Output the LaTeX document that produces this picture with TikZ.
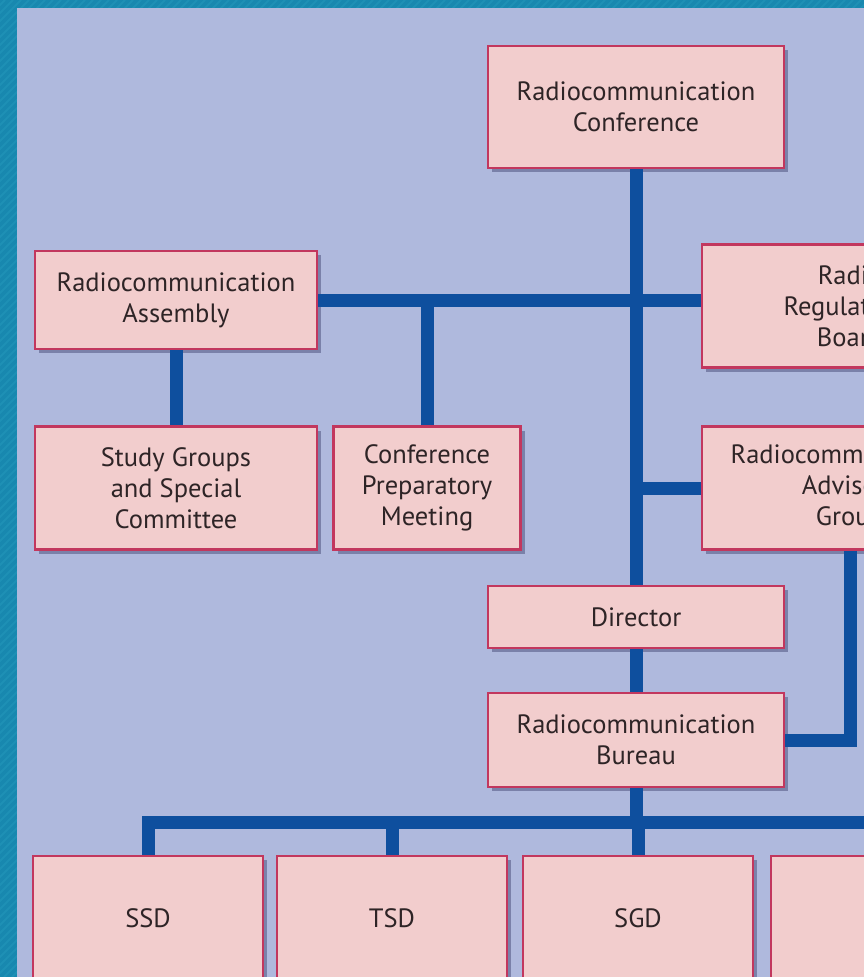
\documentclass[tikz,border=0pt]{standalone}
\usepackage{fontspec}
\setmainfont{PT Sans}
\usetikzlibrary{shadows,calc}
\definecolor{Frame}{HTML}{1888AF}
\definecolor{FrameLine}{HTML}{2598BC}
\definecolor{Sky}{HTML}{AFB9DD}
\definecolor{Rose}{HTML}{F2CDCD}
\definecolor{Crimson}{HTML}{C2375E}
\definecolor{Navy}{HTML}{0E4F9E}
\definecolor{Ink}{HTML}{2E2426}

\begin{document}
\begin{tikzpicture}[x=1pt,y=-1pt,
    unit/.style={draw=Crimson, fill=Rose, line width=2.2pt, align=center,
      text=Ink, inner sep=0pt, font=\fontsize{26.5}{31}\selectfont,
      drop shadow={shadow xshift=4pt, shadow yshift=-4pt, opacity=0.3, fill=black!80!blue}},
    link/.style={Navy, line width=13pt}]
  \useasboundingbox (0,0) rectangle (864,977);
  \clip (0,0) rectangle (864,977);
  % frame and background
  \fill[Frame] (0,0) rectangle (864,977);
  \foreach \i in {-980,-972,...,864} {
    \draw[FrameLine, line width=2pt, opacity=0.5] (\i,977) -- ++(977,-977);
  }
  \fill[Sky] (17,8) rectangle (864,977);

  % boxes
  \node[unit, minimum width=296pt, minimum height=122pt] (conf) at (636,107) {Radiocommunication\\Conference};
  \node[unit, minimum width=282pt, minimum height=98pt] (assembly) at (176,300) {Radiocommunication\\Assembly};
  \node[unit, minimum width=296pt, minimum height=123pt] (rrb) at (850,306) {Radio\\Regulations\\Board};
  \node[unit, minimum width=282pt, minimum height=123pt] (study) at (176,488) {Study Groups\\and Special\\Committee};
  \node[unit, minimum width=187pt, minimum height=123pt] (cpm) at (427,488) {Conference\\Preparatory\\Meeting};
  \node[unit, minimum width=296pt, minimum height=123pt] (rag) at (850,488) {Radiocommunication\\Advisory\\Group};
  \node[unit, minimum width=296pt, minimum height=62pt] (director) at (636,617) {Director};
  \node[unit, minimum width=296pt, minimum height=94pt] (bureau) at (636,740) {Radiocommunication\\Bureau};
  \node[unit, minimum width=230pt, minimum height=124pt] (ssd) at (148,918) {SSD};
  \node[unit, minimum width=230pt, minimum height=124pt] (tsd) at (392,918) {TSD};
  \node[unit, minimum width=230pt, minimum height=124pt] (sgd) at (638,918) {SGD};
  \node[unit, minimum width=230pt, minimum height=124pt] (fourth) at (886,918) {};

  % connectors
  \draw[link] (conf.south) -- (director.north);
  \draw[link] (assembly.east) -- (assembly.east -| rrb.west);
  \draw[link] (cpm.north) -- (cpm.north |- assembly.east);
  \draw[link] (assembly.south) -- (study.north);
  \draw[link] (rag.west) -- (rag.west -| conf.south);
  \draw[link] (director.south) -- (bureau.north);
  \draw[link] (rag.south) |- (bureau.east);
  \draw[link] (bureau.south) -- ++(0,37);
  \draw[link] (ssd.north) -- ++(0,-32) -| (fourth.north);
  \foreach \n in {tsd,sgd} {
    \draw[link] (\n.north) -- ++(0,-32);
  }
\end{tikzpicture}
\end{document}
